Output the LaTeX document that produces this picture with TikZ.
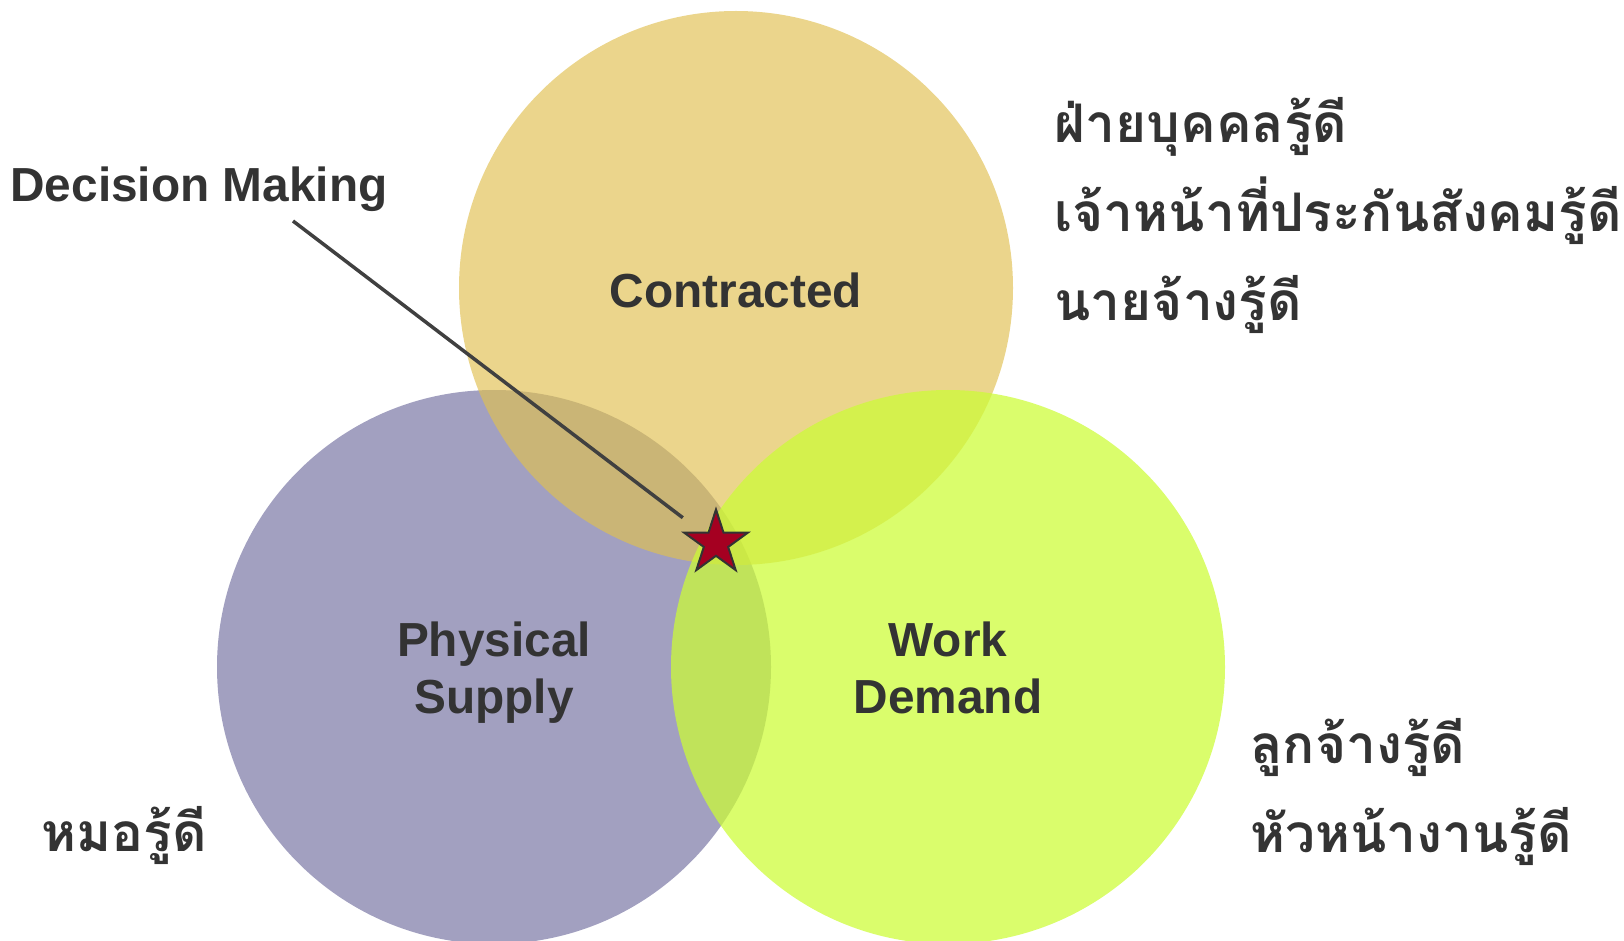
\documentclass[tikz,border=0pt]{standalone}
\usepackage{fontspec}
\setmainfont{Liberation Sans}
\newfontfamily\thaifont[Script=Thai]{Loma}
\usetikzlibrary{shapes.geometric}

\definecolor{contractfill}{RGB}{224,192,80}
\definecolor{physfill}{RGB}{162,160,192}
\definecolor{workfill}{RGB}{204,252,53}
\definecolor{labelgray}{RGB}{51,51,51}
\definecolor{leadergray}{RGB}{64,64,64}
\definecolor{starred}{RGB}{165,0,33}

\tikzset{
  venntitle/.style={font=\bfseries\fontsize{23.9pt}{28.5pt}\selectfont, text=labelgray, align=center},
  thainote/.style={font=\thaifont\bfseries\fontsize{26.6pt}{44.5pt}\selectfont, text=labelgray, align=left, anchor=west, inner sep=0pt},
  leader/.style={draw=leadergray, line width=1.75pt, shorten >=11.5pt},
}

\begin{document}
\begin{tikzpicture}[x=0.5pt,y=-0.5pt]

\useasboundingbox (0,0) rectangle (1624,941);
\clip (0,0) rectangle (1624,941);

\fill[physfill]  (494,667) circle (138.5pt);
\fill[contractfill, fill opacity=0.66]  (736,288) circle (138.5pt);
\fill[workfill, fill opacity=0.73]  (948,667) circle (138.5pt);

\node[venntitle] (contracted) at (736,290) {Contracted};
\node[venntitle] (physical) at (494,673) {Physical\\Supply};
\node[venntitle] (work) at (948,668) {Work\\Demand};

\node[venntitle, anchor=west, inner sep=0pt] (decision) at (10,189) {Decision Making};
\coordinate (dmfoot) at (293,221);

\node[star, star points=5, star point ratio=2.618, minimum size=33.5pt, inner sep=0pt, fill=starred, draw=labelgray, line width=1pt] (star) at (716,543) {};
\draw[leader]  (dmfoot) -- (star);

\node[thainote] (hrnote) at (1054,216) {ฝ่ายบุคคลรู้ดี\\เจ้าหน้าที่ประกันสังคมรู้ดี\\นายจ้างรู้ดี};
\node[thainote] (worknote) at (1250,792) {ลูกจ้างรู้ดี\\หัวหน้างานรู้ดี};
\node[thainote] (doctornote) at (41,836) {หมอรู้ดี};

\end{tikzpicture}
\end{document}
